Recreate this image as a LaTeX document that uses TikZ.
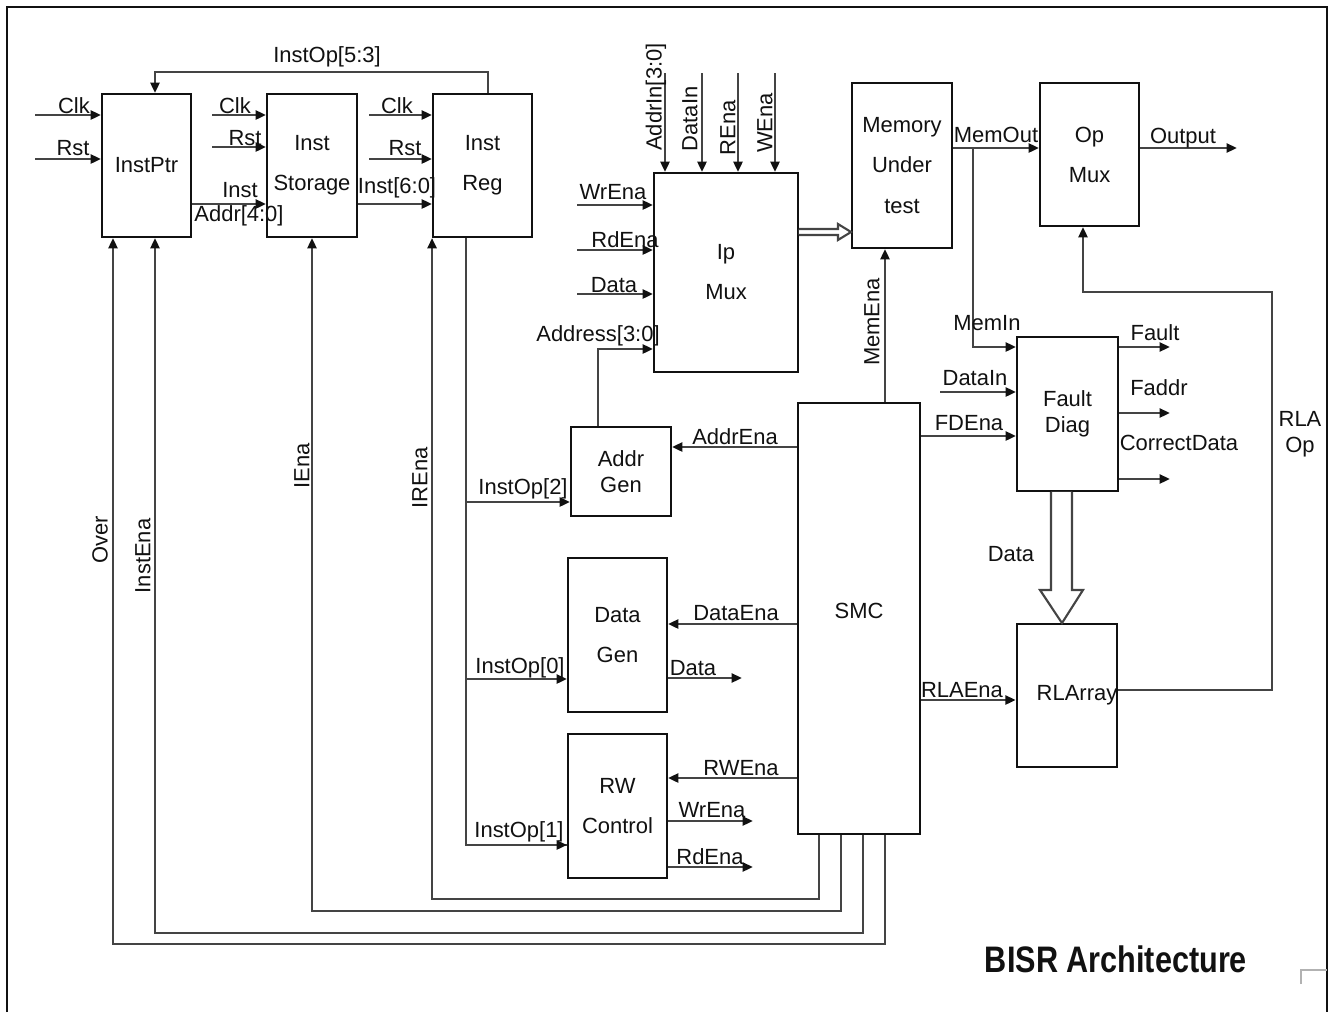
\documentclass[tikz,border=0pt]{standalone}
\usepackage{fontspec}
\setmainfont{Liberation Sans}
\usepackage{tikz}
\usetikzlibrary{arrows.meta,calc}
\definecolor{ink}{HTML}{111111}
\definecolor{wgray}{HTML}{444444}
\tikzset{
  blk/.style={draw=ink, line width=1.1pt, fill=white, inner sep=0pt, align=center, font=\fontsize{12.5}{15}\selectfont, text=ink},
  lbl/.style={font=\fontsize{12.5}{15}\selectfont, text=ink, inner sep=0pt},
  vlbl/.style={lbl, rotate=90},
  sig/.style={draw=wgray, line width=1.5pt},
  sigarr/.style={sig, -{Triangle[length=0.21cm, width=0.18cm, color=ink]}},
  fatbus/.style={draw=wgray, line width=1.2pt, fill=white},
}

\begin{document}
\begin{tikzpicture}[x=0.02cm, y=-0.02cm]
\useasboundingbox (0,0) rectangle (1330,1012);
% frame
\draw[ink, line width=1.2pt] (7,1012) -- (7,7) -- (1327,7) -- (1327,1012);
\draw[gray!60, line width=0.6pt] (1301,984) |- (1327,970);

% blocks
\node[blk, minimum width=1.78cm, minimum height=2.86cm] (instptr) at (146.5,165.5) {InstPtr};
\node[blk, minimum width=1.8cm, minimum height=2.86cm] (inststo) at (312,165.5) {Inst\\[7.8pt]Storage};
\node[blk, minimum width=1.98cm, minimum height=2.86cm] (instreg) at (482.5,165.5) {Inst\\[7.8pt]Reg};
\node[blk, minimum width=2.88cm, minimum height=3.98cm] (ipmux) at (726,272.5) {Ip\\[7.8pt]Mux};
\node[blk, minimum width=2cm, minimum height=3.3cm] (mut) at (902,165.5) {Memory\\[7.8pt]Under\\[7.8pt]test};
\node[blk, minimum width=1.98cm, minimum height=2.86cm] (opmux) at (1089.5,154.5) {Op\\[7.8pt]Mux};
\node[blk, minimum width=2cm, minimum height=1.78cm] (addrgen) at (621,471.5) {Addr\\Gen};
\node[blk, minimum width=1.98cm, minimum height=3.08cm] (datagen) at (617.5,635) {Data\\[7.8pt]Gen};
\node[blk, minimum width=1.98cm, minimum height=2.88cm] (rwctl) at (617.5,806) {RW\\[7.8pt]Control};
\node[blk, minimum width=2.44cm, minimum height=8.62cm] (smc) at (859,618.5) {\raisebox{0.32cm}{SMC}};
\node[blk, minimum width=2.02cm, minimum height=3.08cm] (fdiag) at (1067.5,414) {Fault\\Diag};
\node[blk, minimum width=2cm, minimum height=2.86cm] (rlarray) at (1067,695.5) {\hspace*{0.4cm}RLArray};

% clock and reset inputs
\foreach \n/\xx/\yy/\dst in {ckA/35/115/instptr, rsA/35/159/instptr, ckB/212/115/inststo, rsB/212/147/inststo, ckC/369/115/instreg, rsC/369/159/instreg} {
  \coordinate (\n) at (\xx,\yy);
  \draw[sigarr] (\n) -- (\dst.west |- \n);
}
\node[lbl] (tckA) at (74,106) {Clk};
\node[lbl] (trsA) at (73,148) {Rst};
\node[lbl] (tckB) at (235,106) {Clk};
\node[lbl] (trsB) at (245,138) {Rst};
\node[lbl] (tckC) at (397,106) {Clk};
\node[lbl] (trsC) at (405,148) {Rst};

% instruction path
\draw[sigarr] (instptr.east |- 0,204) -- (inststo.west |- 0,204);
\node[lbl] (tinst) at (240,190) {Inst};
\node[lbl] (taddr) at (239,216) {Addr[4:0]};
\draw[sigarr] (inststo.east |- 0,204) -- (instreg.west |- 0,204);
\node[lbl] (tinstw) at (397,188) {Inst[6:0]};
\draw[sigarr] (instreg.north -| 488,0) |- (155,72) -- (instptr.north -| 155,0);
\node[lbl] (top53) at (327,57) {InstOp[5:3]};

% opcode bus
\draw[sig] (instreg.south -| 466,0) |- (rwctl.west |- 0,845);
\draw[sigarr] (466,845) -- (rwctl.west |- 0,845);
\draw[sigarr] (466,502) -- (addrgen.west |- 0,502);
\draw[sigarr] (466,679) -- (datagen.west |- 0,679);
\node[lbl] (top2) at (523,489) {InstOp[2]};
\node[lbl] (top0) at (520,668) {InstOp[0]};
\node[lbl] (top1) at (519,832) {InstOp[1]};

% enables back from the SMC
\draw[sigarr] (smc.south -| 819,0) |- (instreg.south west |- 0,899) -- (instreg.south west);
\draw[sigarr] (smc.south -| 841,0) |- (inststo.south |- 0,911) -- (inststo.south);
\draw[sigarr] (smc.south -| 863,0) |- (155,933) -- (instptr.south -| 155,0);
\draw[sigarr] (smc.south -| 885,0) |- (113,944) -- (instptr.south -| 113,0);
\node[vlbl] (tover) at (100,540) {Over};
\node[vlbl] (tinstena) at (143,556) {InstEna};
\node[vlbl] (tiena) at (302,466) {IEna};
\node[vlbl] (tirena) at (420,478) {IREna};

% ip mux inputs
\foreach \n/\xx in {ain/665, din/702, ren/738, wen/775} {
  \coordinate (\n) at (\xx,73);
  \draw[sigarr] (\n) -- (ipmux.north -| \n);
}
\node[vlbl] (tain) at (656,97) {AddrIn[3:0]};
\node[vlbl] (tdin) at (690,119) {DataIn};
\node[vlbl] (tren) at (728,128) {REna};
\node[vlbl] (twen) at (765,123) {WEna};
\foreach \n/\yy in {wrin/205, rdin/250, dtin/294} {
  \coordinate (\n) at (577,\yy);
  \draw[sigarr] (\n) -- (ipmux.west |- \n);
}
\node[lbl] (twrin) at (613,192) {WrEna};
\node[lbl] (trdin) at (625,240) {RdEna};
\node[lbl] (tdtin) at (614,285) {Data};
\draw[sigarr] (addrgen.north -| 598,0) |- (ipmux.west |- 0,349);
\node[lbl] (tadr) at (598,336) {Address[3:0]};
\draw[fatbus] (ipmux.east |- 0,229) -- (838,229) -- (838,224) -- (mut.west |- 0,232)
  -- (838,240) -- (838,235) -- (ipmux.east |- 0,235);

% memory and output side
\draw[sigarr] (smc.north -| 885,0) -- (mut.south -| 885,0);
\node[vlbl] (tmemena) at (872,322) {MemEna};
\draw[sigarr] (mut.east |- 0,148) -- (opmux.west |- 0,148);
\node[lbl] (tmemout) at (996,135) {MemOut};
\coordinate (memtap) at (973,148);
\draw[sigarr] (memtap) |- (fdiag.west |- 0,347);
\node[lbl] (tmemin) at (987,323) {MemIn};
\coordinate (outp) at (1237,148);
\draw[sigarr] (opmux.east |- outp) -- (outp);
\node[lbl] (toutp) at (1183,138) {Output};
\draw[sigarr] (rlarray.east |- 0,690) -| (1272,292) -| (opmux.south -| 1083,0);
\node[lbl, align=center] (trlaop) at (1300,434) {RLA\\Op};

% fault diagnosis
\coordinate (dain) at (940,392);
\draw[sigarr] (dain) -- (fdiag.west |- dain);
\node[lbl] (tdain) at (975,378) {DataIn};
\draw[sigarr] (smc.east |- 0,436) -- (fdiag.west |- 0,436);
\node[lbl] (tfdena) at (969,423) {FDEna};
\foreach \n/\yy in {flt/347, fad/413, cdat/479} {
  \coordinate (\n) at (1170,\yy);
  \draw[sigarr] (fdiag.east |- \n) -- (\n);
}
\node[lbl] (tflt) at (1155,333) {Fault};
\node[lbl] (tfad) at (1159,388) {Faddr};
\node[lbl] (tcdat) at (1179,443) {CorrectData};
\draw[fatbus] (fdiag.south -| 1051,0) -- (1051,590) -- (1040,590) -- (rlarray.north -| 1062,0)
  -- (1083,590) -- (1072,590) -- (fdiag.south -| 1072,0);
\node[lbl] (tfdat) at (1011,554) {Data};
\draw[sigarr] (smc.east |- 0,700) -- (rlarray.west |- 0,700);
\node[lbl] (trlaena) at (962,690) {RLAEna};

% generator enables
\draw[sigarr] (smc.west |- 0,447) -- (addrgen.east |- 0,447);
\node[lbl] (taddrena) at (735,437) {AddrEna};
\draw[sigarr] (smc.west |- 0,624) -- (datagen.east |- 0,624);
\node[lbl] (tdataena) at (736,613) {DataEna};
\draw[sigarr] (smc.west |- 0,778) -- (rwctl.east |- 0,778);
\node[lbl] (trwena) at (741,768) {RWEna};
\coordinate (dgout) at (742,678);
\draw[sigarr] (datagen.east |- dgout) -- (dgout);
\node[lbl] (tdgout) at (693,668) {Data};
\coordinate (wrout) at (753,821);
\draw[sigarr] (rwctl.east |- wrout) -- (wrout);
\node[lbl] (twrout) at (712,810) {WrEna};
\coordinate (rdout) at (753,867);
\draw[sigarr] (rwctl.east |- rdout) -- (rdout);
\node[lbl] (trdout) at (710,857) {RdEna};

\node[lbl, font=\bfseries\fontsize{21}{25}\selectfont, xscale=0.83] (title) at (1116,959) {BISR Architecture};
\end{tikzpicture}
\end{document}
